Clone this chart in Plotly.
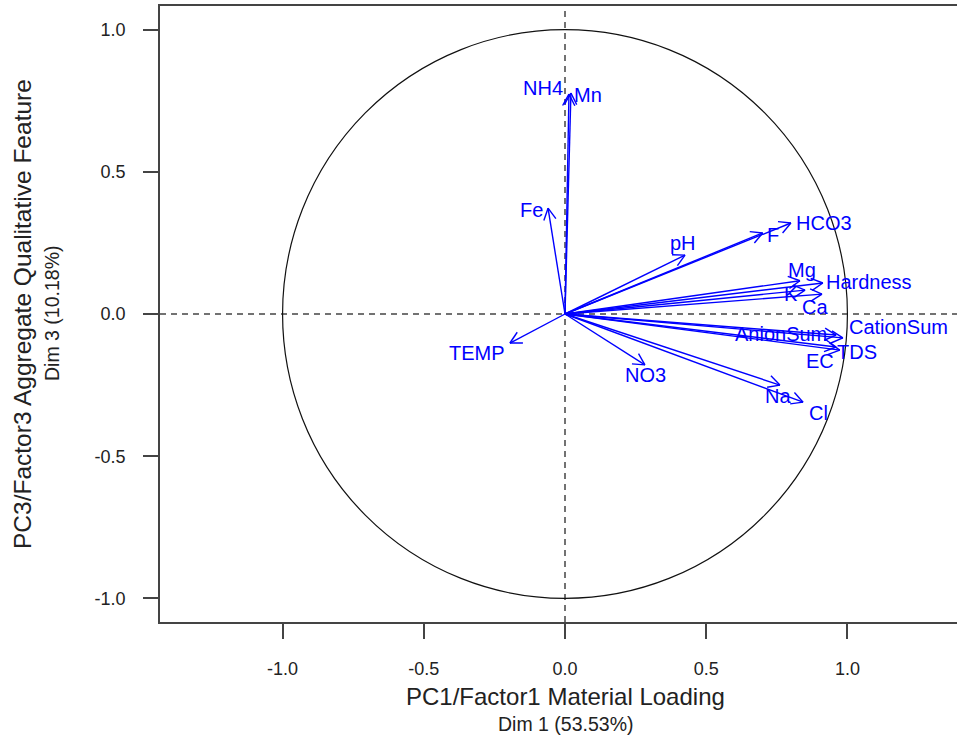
import math
import plotly.graph_objects as go

# Variable loadings on Dim 1 / Dim 3
variables = ["NH4", "Mn", "Fe", "pH", "F", "HCO3", "Mg", "Hardness", "K", "Ca",
             "CationSum", "AnionSum", "TDS", "EC", "Na", "Cl", "NO3", "TEMP"]
dim1 = [0.014, 0.021, -0.060, 0.425, 0.700, 0.800, 0.832, 0.913, 0.850, 0.910,
        0.984, 0.960, 0.973, 0.960, 0.761, 0.843, 0.283, -0.195]
dim3 = [0.773, 0.777, 0.372, 0.207, 0.285, 0.320, 0.117, 0.109, 0.084, 0.070,
        -0.084, -0.074, -0.127, -0.116, -0.250, -0.310, -0.179, -0.102]

tick_vals = [-1.0, -0.5, 0.0, 0.5, 1.0]
tick_text = ["-1.0", "-0.5", "0.0", "0.5", "1.0"]

x_title = ["PC1/Factor1 Material Loading", "Dim 1 (53.53%)"]
y_title = ["PC3/Factor3 Aggregate Qualitative Feature", "Dim 3 (10.18%)"]

# Label placement relative to arrow tip, in pixels (dx right, dy up)
label_offset = {
    "NH4": (-26, 6), "Mn": (17, -2), "Fe": (-17, -2), "pH": (-2, 12),
    "F": (10, -2), "HCO3": (33, 0), "Mg": (2, 11), "Hardness": (46, 1),
    "K": (-14, -4), "Ca": (-7, -13), "CationSum": (56, 11), "AnionSum": (-55, 1),
    "TDS": (17, -2), "EC": (-16, -14), "Na": (-2, -11), "Cl": (15, -11),
    "NO3": (1, -10), "TEMP": (-33, -10),
}

W, H = 957, 744
ML, MR, MT, MB = 160, 0, 6, 122
XR = [-1.434, 1.388]
YR = [-1.083, 1.083]
sx = (W - ML - MR) / (XR[1] - XR[0])
sy = (H - MT - MB) / (YR[1] - YR[0])

BLUE = "#0000FF"
FONT = "Liberation Sans"

# Arrow shafts and open heads, heads sized in screen pixels
head_len, head_ang = 13.0, math.radians(28)
ax_, ay_ = [], []
for x, y in zip(dim1, dim3):
    ax_ += [0, x, None]
    ay_ += [0, y, None]
    px, py = x * sx, y * sy
    ang = math.atan2(py, px)
    for s in (1, -1):
        a = ang + math.pi + s * head_ang
        hx = (px + head_len * math.cos(a)) / sx
        hy = (py + head_len * math.sin(a)) / sy
        ax_ += [hx, x, None]
        ay_ += [hy, y, None]

fig = go.Figure()
fig.add_trace(go.Scatter(x=ax_, y=ay_, mode="lines",
                         line=dict(color=BLUE, width=1.4),
                         hoverinfo="skip", showlegend=False))

annotations = []
for name, x, y in zip(variables, dim1, dim3):
    dx, dy = label_offset[name]
    annotations.append(dict(x=x, y=y, xref="x", yref="y", text=name,
                            showarrow=False, xshift=dx, yshift=dy,
                            font=dict(family=FONT, size=20, color=BLUE)))

# Axis titles (two lines each)
annotations += [
    dict(x=0, y=0, xref="x", yref="paper", text=x_title[0], showarrow=False,
         yshift=-(696 - (H - MB)), yanchor="middle",
         font=dict(family=FONT, size=24, color="#222")),
    dict(x=0, y=0, xref="x", yref="paper", text=x_title[1], showarrow=False,
         yshift=-(724 - (H - MB)), yanchor="middle",
         font=dict(family=FONT, size=19.5, color="#222")),
    dict(x=0, y=0, xref="paper", yref="y", text=y_title[0], showarrow=False,
         textangle=-90, xshift=22 - ML, xanchor="center",
         font=dict(family=FONT, size=24.5, color="#222")),
    dict(x=0, y=0, xref="paper", yref="y", text=y_title[1], showarrow=False,
         textangle=-90, xshift=52 - ML, xanchor="center",
         font=dict(family=FONT, size=19.5, color="#222")),
]

shapes = [
    dict(type="circle", xref="x", yref="y", x0=-1, y0=-1, x1=1, y1=1,
         line=dict(color="#111", width=1.2)),
    dict(type="line", xref="x", yref="y", x0=XR[0], x1=XR[1], y0=0, y1=0,
         line=dict(color="#444", width=1.5, dash="6px,5px"), layer="below"),
    dict(type="line", xref="x", yref="y", x0=0, x1=0, y0=YR[0], y1=YR[1],
         line=dict(color="#444", width=1.5, dash="6px,5px"), layer="below"),
]

axis_common = dict(showgrid=False, zeroline=False, showline=True,
                   linecolor="#444", linewidth=1.5, ticks="outside", ticklen=15,
                   tickcolor="#444", tickwidth=1.5,
                   tickfont=dict(family=FONT, size=18, color="#222"),
                   tickvals=tick_vals, ticktext=tick_text, fixedrange=True)

fig.update_layout(
    width=W, height=H,
    margin=dict(l=ML, r=MR, t=MT, b=MB),
    paper_bgcolor="white", plot_bgcolor="white",
    xaxis=dict(range=XR, mirror=True, ticklabelstandoff=15, **axis_common),
    yaxis=dict(range=YR, ticklabelstandoff=14, **axis_common),
    shapes=shapes, annotations=annotations,
)

fig.write_html("out.html")
